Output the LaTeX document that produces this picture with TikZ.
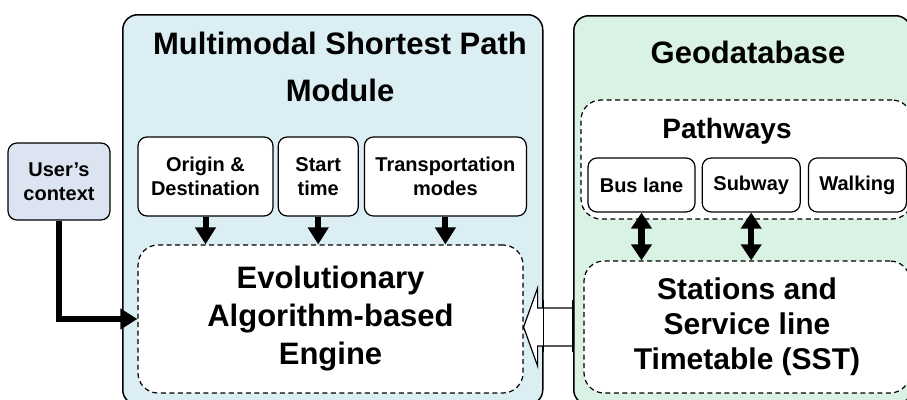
\documentclass[tikz,border=0pt]{standalone}
\usepackage{fontspec}
\setmainfont{Liberation Sans}
\usetikzlibrary{positioning,arrows.meta}
\definecolor{modblue}{HTML}{DAEEF3}
\definecolor{modgreen}{HTML}{DAF2E3}
\definecolor{ctxblue}{HTML}{DCE4F2}
\tikzset{
  module box/.style={
    draw,
    fill=#1,
    line width=1.5pt,
    rounded corners=15pt,
    anchor=north west,
    inner sep=0pt,
  },
  input box/.style={
    draw,
    fill=white,
    line width=1.2pt,
    rounded corners=9pt,
    align=center,
    inner sep=0pt,
    font=\fontsize{20}{24}\selectfont\bfseries,
    minimum width={#1},
  },
  dash box/.style={
    draw,
    fill=white,
    line width=1.2pt,
    dash pattern=on 5pt off 3.5pt,
    rounded corners=20pt,
    align=center,
    inner sep=0pt,
  },
  title/.style={
    font=\fontsize{31}{47}\selectfont\bfseries,
    align=center,
    inner sep=0pt,
  },
  big arrow/.style={
    line width=6pt,
    -{Triangle[length=17pt,width=20pt]},
  },
  double arrow/.style={
    line width=6.5pt,
    {Triangle[length=16pt,width=20pt]}-{Triangle[length=16pt,width=20pt]},
  },
}

\begin{document}
\begin{tikzpicture}[x=1pt,y=-1pt]
        \useasboundingbox (0,0) rectangle (907,399);

        % the two modules
        \node [module box=modblue, minimum width=420pt, minimum height=390pt] (msp) at (122,14) {};
        \node [module box=modgreen, minimum width=337pt, minimum height=389pt] (geo) at (573,15) {};
        \node [title] (msptitle) at (340,67) {Multimodal Shortest Path\\Module};
        \node [title, anchor=base] (geotitle) at (748,63) {Geodatabase};

        % user input
        \node [input box=102pt, fill=ctxblue, minimum height=77pt] (ctx) at (59,181.5) {User’s\\context};

        % inputs of the engine
        \node [input box=135pt, minimum height=79pt] (orig) at (205.5,176.5) {Origin \&\\Destination};
        \node [input box=80pt, minimum height=79pt, right=4pt of orig] (start) {Start\\time};
        \node [input box=162pt, minimum height=79pt, right=5pt of start] (modes) {Transportation\\modes};

        \node [dash box, minimum width=385pt, minimum height=148pt,
          font=\fontsize{31}{38}\selectfont\bfseries] (engine) at (330.5,319) {Evolutionary\\Algorithm-based\\Engine};

        % geodatabase content
        \node [dash box, minimum width=331pt, minimum height=119pt] (paths) at (746.5,159.5) {};
        \node [anchor=base, inner sep=0pt, font=\fontsize{28}{34}\selectfont\bfseries] (pathtitle) at (727,138) {Pathways};
        \node [input box=107pt, minimum height=54pt] (bus) at (641.5,185) {Bus lane};
        \node [input box=98pt, minimum height=54pt, right=6pt of bus] (subway) {Subway};
        \node [input box=98pt, minimum height=54pt, right=7pt of subway] (walk) {Walking};

        \node [dash box, minimum width=326pt, minimum height=132pt,
          font=\fontsize{30}{35}\selectfont\bfseries] (sst) at (747,327) {Stations and\\Service line\\Timetable (SST)};

        % connectors
        \draw [big arrow] (ctx.south) |- (engine.west);
        \foreach \n in {orig,start,modes}
          \draw [big arrow] (\n.south) -- (\n.south |- engine.north);
        \foreach \n in {bus,subway}
          \draw [double arrow] (\n.south) -- (\n.south |- sst.north);

        % hollow arrow from the geodatabase
        \coordinate (tip) at (engine.east |- sst.west);
        \draw [fill=white, line width=1.2pt] (tip) -- ++(14,-39) -- ++(0,20) -- ++(36,0)
          -- ++(0,38) -- ++(-36,0) -- ++(0,20) -- cycle;
        \draw [line width=1.5pt] (msp.east |- 0,300) -- (msp.east |- 0,352);
        \draw [line width=1.5pt] (geo.west |- 0,300) -- (geo.west |- 0,352);
      \end{tikzpicture}
\end{document}
